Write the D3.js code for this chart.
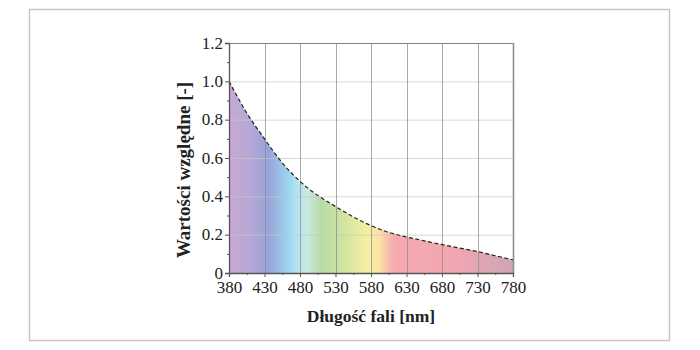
<!DOCTYPE html>
<html>
<head>
<meta charset="utf-8">
<script src="https://cdn.jsdelivr.net/npm/d3@7"></script>
<style>
  html, body { margin: 0; padding: 0; background: #fff; }
  svg { display: block; }
</style>
</head>
<body>
<div id="chart"></div>
<script>
// ---- Data ----
const wavelengths = [380, 405, 430, 455, 480, 505, 530, 555, 580, 605, 630, 655, 680, 705, 730, 755, 780];
const values      = [1.0, 0.835, 0.70, 0.575, 0.478, 0.405, 0.347, 0.293, 0.247, 0.212, 0.188, 0.168, 0.148, 0.13, 0.112, 0.09, 0.069];
const xTicks = [380, 430, 480, 530, 580, 630, 680, 730, 780];
const yTicks = [0, 0.2, 0.4, 0.6, 0.8, 1.0, 1.2];
const spectrumNm     = [380, 410, 435, 465, 478, 492, 510, 540, 575, 592, 612, 700, 780];
const spectrumColors = ['#c8a9d4', '#b5a8d6', '#97a3d8', '#9fd6f1', '#b8e6ef', '#c9e8de', '#b8dba6', '#cfe49f', '#f6efa2', '#fbe2a6', '#f5aab0', '#f2a7b1', '#cca5b6'];

// ---- Layout ----
const W = 700, H = 350;
const plot = { left: 229, right: 513, top: 43, bottom: 273 };
const font = 'Liberation Serif, Times New Roman, serif';

const svg = d3.select('#chart').append('svg')
  .attr('width', W).attr('height', H);

// outer frame
svg.append('rect')
  .attr('x', 29.5).attr('y', 9.5).attr('width', 640).attr('height', 331)
  .attr('fill', '#fff').attr('stroke', '#c4c4c4').attr('stroke-width', 1.4);

const x = d3.scaleLinear().domain([380, 780]).range([plot.left, plot.right]);
const y = d3.scaleLinear().domain([0, 1.2]).range([plot.bottom, plot.top]);

// gradient
const defs = svg.append('defs');
const grad = defs.append('linearGradient')
  .attr('id', 'spectrum')
  .attr('gradientUnits', 'userSpaceOnUse')
  .attr('x1', x(380)).attr('x2', x(780)).attr('y1', 0).attr('y2', 0);
grad.selectAll('stop').data(spectrumNm).join('stop')
  .attr('offset', d => (d - 380) / 400)
  .attr('stop-color', (d, i) => spectrumColors[i]);

const pts = wavelengths.map((w, i) => ({ w, v: values[i] }));

// area fill
svg.append('path')
  .datum(pts)
  .attr('fill', 'url(#spectrum)')
  .attr('d', d3.area().curve(d3.curveMonotoneX).x(d => x(d.w)).y0(y(0)).y1(d => y(d.v)));

// grid
const grid = svg.append('g');
grid.selectAll('line.h').data(yTicks.slice(1, -1)).join('line')
  .attr('x1', plot.left).attr('x2', plot.right)
  .attr('y1', d => y(d) + 0.5).attr('y2', d => y(d) + 0.5)
  .attr('stroke', '#c8c8c8').attr('stroke-opacity', 0.7).attr('stroke-width', 1);
grid.selectAll('line.v').data(xTicks.slice(1, -1)).join('line')
  .attr('x1', d => Math.round(x(d)) + 0.5).attr('x2', d => Math.round(x(d)) + 0.5)
  .attr('y1', plot.top).attr('y2', plot.bottom)
  .attr('stroke', '#8c8c8c').attr('stroke-opacity', 0.75).attr('stroke-width', 1);

// frame top and right
svg.append('line')
  .attr('x1', plot.left).attr('x2', plot.right)
  .attr('y1', plot.top + 0.5).attr('y2', plot.top + 0.5)
  .attr('stroke', '#808080').attr('stroke-width', 1.2);
svg.append('line')
  .attr('x1', plot.right + 0.5).attr('x2', plot.right + 0.5)
  .attr('y1', plot.top).attr('y2', plot.bottom)
  .attr('stroke', '#909090').attr('stroke-width', 1.6);

// dashed curve
svg.append('path')
  .datum(pts)
  .attr('fill', 'none')
  .attr('stroke', '#222')
  .attr('stroke-width', 1.2)
  .attr('stroke-dasharray', '4,2.5')
  .attr('d', d3.line().curve(d3.curveMonotoneX).x(d => x(d.w)).y(d => y(d.v)));

// axes
const xAxis = svg.append('g')
  .attr('transform', `translate(0,${plot.bottom})`)
  .call(d3.axisBottom(x).tickValues(xTicks).tickSize(4).tickPadding(4).tickFormat(d3.format('d')));
svg.append('g')
  .attr('transform', `translate(0,${plot.bottom})`)
  .call(d3.axisBottom(x).tickValues(d3.range(405, 780, 50)).tickSize(2).tickFormat(''))
  .call(g => g.select('.domain').remove());

const yAxis = svg.append('g')
  .attr('transform', `translate(${plot.left},0)`)
  .call(d3.axisLeft(y).tickValues(yTicks).tickSize(4).tickPadding(2)
    .tickFormat(d => d === 0 ? '0' : d3.format('.1f')(d)));
svg.append('g')
  .attr('transform', `translate(${plot.left},0)`)
  .call(d3.axisLeft(y).tickValues(d3.range(0.1, 1.2, 0.2)).tickSize(2).tickFormat(''))
  .call(g => g.select('.domain').remove());

svg.selectAll('.domain').attr('stroke', '#555').attr('stroke-width', 1.3);
svg.selectAll('.tick line').attr('stroke', '#555');
svg.selectAll('.tick text')
  .attr('font-family', font).attr('font-size', 17).attr('fill', '#222');
xAxis.selectAll('.tick text').attr('dy', '0.7em');
yAxis.selectAll('.tick text').attr('dy', '0.3em');

// axis titles
svg.append('text')
  .attr('x', (plot.left + plot.right) / 2).attr('y', 322)
  .attr('text-anchor', 'middle')
  .attr('font-family', font).attr('font-weight', 'bold').attr('font-size', 17.5).attr('fill', '#222')
  .text('Długość fali [nm]');

svg.append('text')
  .attr('transform', `translate(190,170) rotate(-90)`)
  .attr('text-anchor', 'middle')
  .attr('font-family', font).attr('font-weight', 'bold').attr('font-size', 19).attr('fill', '#222')
  .text('Wartości względne [-]');
</script>
</body>
</html>
